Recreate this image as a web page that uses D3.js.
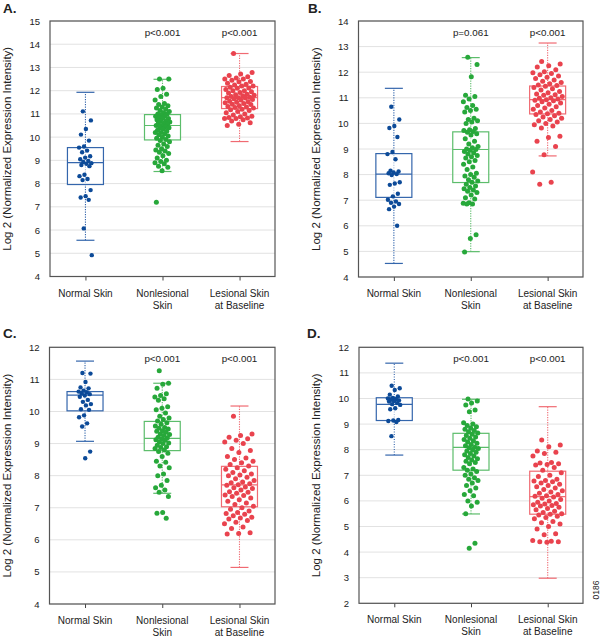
<!DOCTYPE html>
<html>
<head>
<meta charset="utf-8">
<script src="https://d3js.org/d3.v7.min.js"></script>
<style>
  body { margin: 0; background: #fff; }
  text { font-family: "Liberation Sans", Arial, sans-serif; fill: #222; }
</style>
</head>
<body>
<div id="chart"></div>
<script>
// ---- data ----
var panelLabels = ["A.", "B.", "C.", "D."];
var categories = [["Normal Skin"], ["Nonlesional", "Skin"], ["Lesional Skin", "at Baseline"]];
var yDomains = [[4, 15], [4, 14], [4, 12], [2, 12]];
var yTicks = [
  [4, 5, 6, 7, 8, 9, 10, 11, 12, 13, 14, 15],
  [4, 5, 6, 7, 8, 9, 10, 11, 12, 13, 14],
  [4, 5, 6, 7, 8, 9, 10, 11, 12],
  [2, 3, 4, 5, 6, 7, 8, 9, 10, 11, 12]
];
var pValues = [
  ["", "p<0.001", "p<0.001"],
  ["", "p=0.061", "p<0.001"],
  ["", "p<0.001", "p<0.001"],
  ["", "p<0.001", "p<0.001"]
];

// box stats: [lower whisker, q1, median, q3, upper whisker]
var boxA = [[5.56, 7.96, 8.9, 9.55, 11.93], [8.52, 9.88, 10.5, 10.97, 12.49], [9.81, 11.23, 11.7, 12.18, 13.6]];
var boxB = [[4.53, 7.11, 8.02, 8.82, 11.37], [4.99, 7.69, 8.98, 9.67, 12.57], [8.73, 10.37, 10.93, 11.46, 13.14]];
var boxC = [[9.07, 10.02, 10.51, 10.62, 11.57], [7.45, 8.78, 9.16, 9.69, 10.88], [5.14, 7.03, 7.71, 8.29, 10.17]];
var boxD = [[7.79, 9.14, 9.77, 10.03, 11.38], [5.49, 7.2, 8.09, 8.64, 9.97], [2.98, 5.48, 6.17, 7.16, 9.68]];

// individual samples
var ptsA = [
  [11.11, 10.72, 10.35, 10.11, 9.85, 9.6, 9.55, 9.42, 9.35, 9.18, 9.12, 9.05, 8.98, 8.93, 8.88, 8.85, 8.8, 8.75, 8.38, 8.32, 8.2, 8.15, 7.72, 7.46, 7.4, 7.3, 6.07, 4.92],
  [12.5, 12.5, 12.1, 12.05, 11.85, 11.75, 11.6, 11.45, 11.4, 11.35, 11.3, 11.25, 11.2, 11.15, 11.1, 11.05, 11.0, 11.0, 10.95, 10.9, 10.9, 10.85, 10.8, 10.8, 10.75, 10.7, 10.7, 10.65, 10.6, 10.6, 10.55, 10.5, 10.5, 10.45, 10.4, 10.4, 10.35, 10.3, 10.25, 10.2, 10.2, 10.15, 10.1, 10.05, 10.0, 9.95, 9.9, 9.85, 9.8, 9.7, 9.65, 9.6, 9.5, 9.45, 9.4, 9.35, 9.3, 9.2, 9.1, 9.0, 8.95, 8.9, 8.85, 8.75, 8.7, 8.55, 7.2],
  [13.6, 12.78, 12.72, 12.65, 12.6, 12.55, 12.5, 12.5, 12.45, 12.4, 12.38, 12.32, 12.28, 12.25, 12.2, 12.2, 12.15, 12.12, 12.1, 12.05, 12.0, 12.0, 11.95, 11.92, 11.9, 11.85, 11.82, 11.8, 11.78, 11.75, 11.72, 11.7, 11.7, 11.68, 11.65, 11.62, 11.6, 11.55, 11.52, 11.5, 11.48, 11.45, 11.42, 11.4, 11.35, 11.32, 11.3, 11.28, 11.25, 11.2, 11.18, 11.15, 11.1, 11.05, 11.0, 10.95, 10.9, 10.88, 10.85, 10.82, 10.8, 10.8, 10.75, 10.7, 10.62, 10.55, 10.5]
];
var ptsB = [
  [10.65, 10.15, 9.9, 9.82, 9.47, 8.88, 8.8, 8.6, 8.15, 8.12, 8.08, 8.05, 8.02, 7.98, 7.7, 7.65, 7.6, 7.25, 7.15, 7.02, 6.95, 6.9, 6.85, 6.75, 6.65, 6.0],
  [12.58, 12.3, 11.82, 11.1, 11.05, 10.95, 10.85, 10.7, 10.62, 10.55, 10.5, 10.45, 10.2, 10.15, 10.1, 10.05, 10.0, 9.8, 9.75, 9.72, 9.68, 9.65, 9.6, 9.55, 9.4, 9.3, 9.2, 9.1, 9.05, 9.0, 8.98, 8.95, 8.9, 8.85, 8.8, 8.75, 8.7, 8.65, 8.55, 8.5, 8.4, 8.3, 8.2, 8.05, 8.0, 7.95, 7.9, 7.8, 7.75, 7.7, 7.62, 7.55, 7.5, 7.45, 7.4, 7.35, 7.3, 7.2, 7.1, 7.05, 6.9, 6.88, 6.85, 6.85, 5.65, 5.5, 4.98],
  [12.42, 12.32, 12.25, 12.2, 12.1, 12.02, 11.98, 11.95, 11.9, 11.85, 11.8, 11.75, 11.7, 11.65, 11.6, 11.55, 11.5, 11.48, 11.45, 11.4, 11.35, 11.3, 11.25, 11.2, 11.15, 11.12, 11.1, 11.05, 11.0, 10.98, 10.95, 10.92, 10.9, 10.88, 10.85, 10.8, 10.75, 10.7, 10.65, 10.6, 10.55, 10.5, 10.45, 10.4, 10.38, 10.35, 10.3, 10.25, 10.2, 10.15, 10.1, 10.05, 10.0, 9.95, 9.9, 9.82, 9.5, 9.45, 9.3, 9.1, 8.78, 8.1, 7.7, 7.62]
];
var ptsC = [
  [11.2, 11.18, 10.92, 10.75, 10.72, 10.65, 10.62, 10.6, 10.57, 10.54, 10.5, 10.46, 10.36, 10.3, 10.23, 10.19, 10.07, 10.05, 9.88, 9.82, 9.63, 9.53, 8.75, 8.54],
  [11.27, 10.88, 10.85, 10.72, 10.55, 10.5, 10.45, 10.4, 10.35, 10.15, 10.1, 10.05, 9.95, 9.85, 9.8, 9.75, 9.7, 9.65, 9.6, 9.55, 9.5, 9.48, 9.45, 9.4, 9.38, 9.35, 9.3, 9.28, 9.25, 9.2, 9.18, 9.15, 9.12, 9.1, 9.05, 9.02, 9.0, 8.95, 8.9, 8.88, 8.85, 8.8, 8.75, 8.7, 8.6, 8.45, 8.42, 8.3, 8.25, 8.05, 8.0, 7.85, 7.7, 7.62, 7.55, 7.48, 7.35, 6.85, 6.83, 6.67],
  [9.85, 9.3, 9.25, 9.2, 9.15, 9.1, 9.05, 9.0, 8.85, 8.78, 8.72, 8.6, 8.55, 8.5, 8.45, 8.4, 8.35, 8.3, 8.25, 8.2, 8.15, 8.1, 8.05, 8.02, 8.0, 7.95, 7.9, 7.85, 7.8, 7.78, 7.75, 7.72, 7.7, 7.65, 7.62, 7.6, 7.55, 7.5, 7.48, 7.45, 7.4, 7.38, 7.35, 7.3, 7.25, 7.2, 7.15, 7.1, 7.05, 7.0, 6.95, 6.9, 6.85, 6.82, 6.8, 6.75, 6.7, 6.68, 6.65, 6.6, 6.55, 6.5, 6.4, 6.35, 6.22, 6.2, 6.18]
];
var ptsD = [
  [10.5, 10.4, 10.33, 10.15, 10.08, 10.02, 10.0, 9.97, 9.95, 9.92, 9.9, 9.88, 9.82, 9.78, 9.75, 9.62, 9.58, 9.16, 9.14, 9.12, 9.08, 8.53],
  [9.98, 9.9, 9.82, 9.75, 9.55, 9.48, 9.05, 9.0, 8.95, 8.9, 8.85, 8.8, 8.75, 8.7, 8.65, 8.6, 8.55, 8.5, 8.45, 8.4, 8.35, 8.3, 8.25, 8.2, 8.15, 8.1, 8.08, 8.05, 8.0, 7.95, 7.9, 7.85, 7.8, 7.75, 7.7, 7.65, 7.6, 7.55, 7.5, 7.45, 7.3, 7.25, 7.2, 7.15, 7.05, 7.0, 6.9, 6.85, 6.8, 6.7, 6.6, 6.5, 6.4, 6.25, 6.2, 6.0, 5.95, 5.8, 5.5, 4.35, 4.15],
  [8.38, 8.18, 8.12, 7.95, 7.9, 7.85, 7.75, 7.5, 7.48, 7.45, 7.42, 7.4, 7.3, 7.2, 7.1, 7.0, 6.95, 6.85, 6.8, 6.78, 6.75, 6.7, 6.65, 6.6, 6.55, 6.5, 6.45, 6.4, 6.35, 6.3, 6.25, 6.2, 6.18, 6.15, 6.1, 6.05, 6.0, 5.95, 5.9, 5.88, 5.85, 5.82, 5.8, 5.75, 5.7, 5.65, 5.6, 5.55, 5.5, 5.48, 5.45, 5.4, 5.35, 5.3, 5.2, 5.15, 5.1, 5.0, 4.9, 4.72, 4.68, 4.45, 4.42, 4.4, 4.4, 4.38]
];

var boxes = [boxA, boxB, boxC, boxD];
var points = [ptsA, ptsB, ptsC, ptsD];

// ---- styling / layout ----
var dotColors = ["#0c4a98", "#27a83a", "#e9434e"];
var boxColors = ["#3466ac", "#5cbd6b", "#f06a72"];
var jitterHalf = [6.5, 7.5, 15];

var svgWidth = 600, svgHeight = 637;
var svg = d3.select("#chart").append("svg")
  .attr("width", svgWidth)
  .attr("height", svgHeight);

// left/top of each plot frame
var frames = [
  {x: 50, y: 21, w: 225, h: 255.5, lx: 3, ly: 13, tx: 11},
  {x: 358.5, y: 21, w: 224.5, h: 256, lx: 308, ly: 13, tx: 320},
  {x: 49.5, y: 347.3, w: 225.5, h: 256.7, lx: 3, ly: 338, tx: 11},
  {x: 359, y: 347.3, w: 224, h: 256, lx: 307, ly: 338, tx: 320}
];

frames.forEach(function(f, p) {
  var g = svg.append("g").attr("transform", `translate(${f.x}, ${f.y})`);

  var yScale = d3.scaleLinear().domain(yDomains[p]).range([f.h, 0]);
  var xScale = d3.scalePoint().domain([0, 1, 2]).range([0, f.w]).padding(0.46);

  // grid
  g.append("g").selectAll("line")
    .data(yTicks[p])
    .enter()
    .append("line")
    .attr("x1", 0).attr("x2", f.w)
    .attr("y1", d => yScale(d)).attr("y2", d => yScale(d))
    .attr("stroke", "#e2e2e2")
    .attr("stroke-width", 1);

  // left axis
  var leftAxis = d3.axisLeft(yScale).tickValues(yTicks[p]).tickSize(0).tickPadding(10);
  var ya = g.append("g").call(leftAxis);
  ya.select(".domain").remove();
  ya.selectAll("text").attr("font-size", 9.5).style("fill", "#222");

  // bottom axis ticks
  var bottomAxis = d3.axisBottom(xScale).tickSize(4).tickFormat("");
  var xa = g.append("g").attr("transform", `translate(0, ${f.h})`).call(bottomAxis);
  xa.select(".domain").remove();
  xa.selectAll("line").attr("stroke", "#444");

  // category labels
  categories.forEach(function(lines, c) {
    var t = g.append("text")
      .attr("x", xScale(c))
      .attr("y", f.h + 20)
      .attr("text-anchor", "middle")
      .attr("font-size", 10);
    lines.forEach(function(line, k) {
      t.append("tspan").attr("x", xScale(c)).attr("dy", k === 0 ? 0 : 12).text(line);
    });
  });

  // p-values
  g.append("g").selectAll("text")
    .data(pValues[p])
    .enter()
    .append("text")
    .attr("x", (d, i) => xScale(i))
    .attr("y", 14.5)
    .attr("text-anchor", "middle")
    .attr("font-size", 9.8)
    .text(d => d);

  // boxes
  var bw = 36, cw = 18;
  boxes[p].forEach(function(b, c) {
    var cx = xScale(c);
    var bg = g.append("g");
    // whisker (dotted)
    bg.append("line")
      .attr("x1", cx).attr("x2", cx)
      .attr("y1", yScale(b[0])).attr("y2", yScale(b[4]))
      .attr("stroke", boxColors[c]).attr("stroke-width", 1.1)
      .attr("stroke-dasharray", "1.2,1.3");
    // caps
    [b[0], b[4]].forEach(function(v) {
      bg.append("line")
        .attr("x1", cx - cw / 2).attr("x2", cx + cw / 2)
        .attr("y1", yScale(v)).attr("y2", yScale(v))
        .attr("stroke", boxColors[c]).attr("stroke-width", 1.2);
    });
    bg.append("rect")
      .attr("x", cx - bw / 2).attr("width", bw)
      .attr("y", yScale(b[3])).attr("height", yScale(b[1]) - yScale(b[3]))
      .attr("fill", "#fff").attr("fill-opacity", 0.6)
      .attr("stroke", boxColors[c]).attr("stroke-width", 1.2);
    bg.append("line")
      .attr("x1", cx - bw / 2).attr("x2", cx + bw / 2)
      .attr("y1", yScale(b[2])).attr("y2", yScale(b[2]))
      .attr("stroke", boxColors[c]).attr("stroke-width", 1.2);
  });

  // dots, deterministic jitter (golden-ratio sequence)
  points[p].forEach(function(vals, c) {
    g.append("g").selectAll("circle")
      .data(vals)
      .enter()
      .append("circle")
      .attr("cx", (d, i) => xScale(c) + (((i * 0.618034 + 0.3) % 1) - 0.5) * 2 * jitterHalf[c])
      .attr("cy", d => yScale(d))
      .attr("r", c === 0 ? 2.2 : 2.5)
      .attr("fill", dotColors[c]);
  });

  // frame
  g.append("rect")
    .attr("width", f.w).attr("height", f.h)
    .attr("fill", "none")
    .attr("stroke", "#555")
    .attr("stroke-width", 1.2);

  // panel letter
  svg.append("text")
    .attr("x", f.lx).attr("y", f.ly)
    .attr("font-size", 13.5)
    .attr("font-weight", "bold")
    .text(panelLabels[p]);

  // y axis title
  svg.append("text")
    .attr("transform", `translate(${f.tx}, ${f.y + f.h / 2}) rotate(-90)`)
    .attr("text-anchor", "middle")
    .attr("font-size", 11.5)
    .text("Log 2 (Normalized Expression Intensity)");
});

// figure id
svg.append("text")
  .attr("transform", "translate(599, 590) rotate(-90)")
  .attr("text-anchor", "middle")
  .attr("font-size", 8.5)
  .text("0186");
</script>
</body>
</html>
